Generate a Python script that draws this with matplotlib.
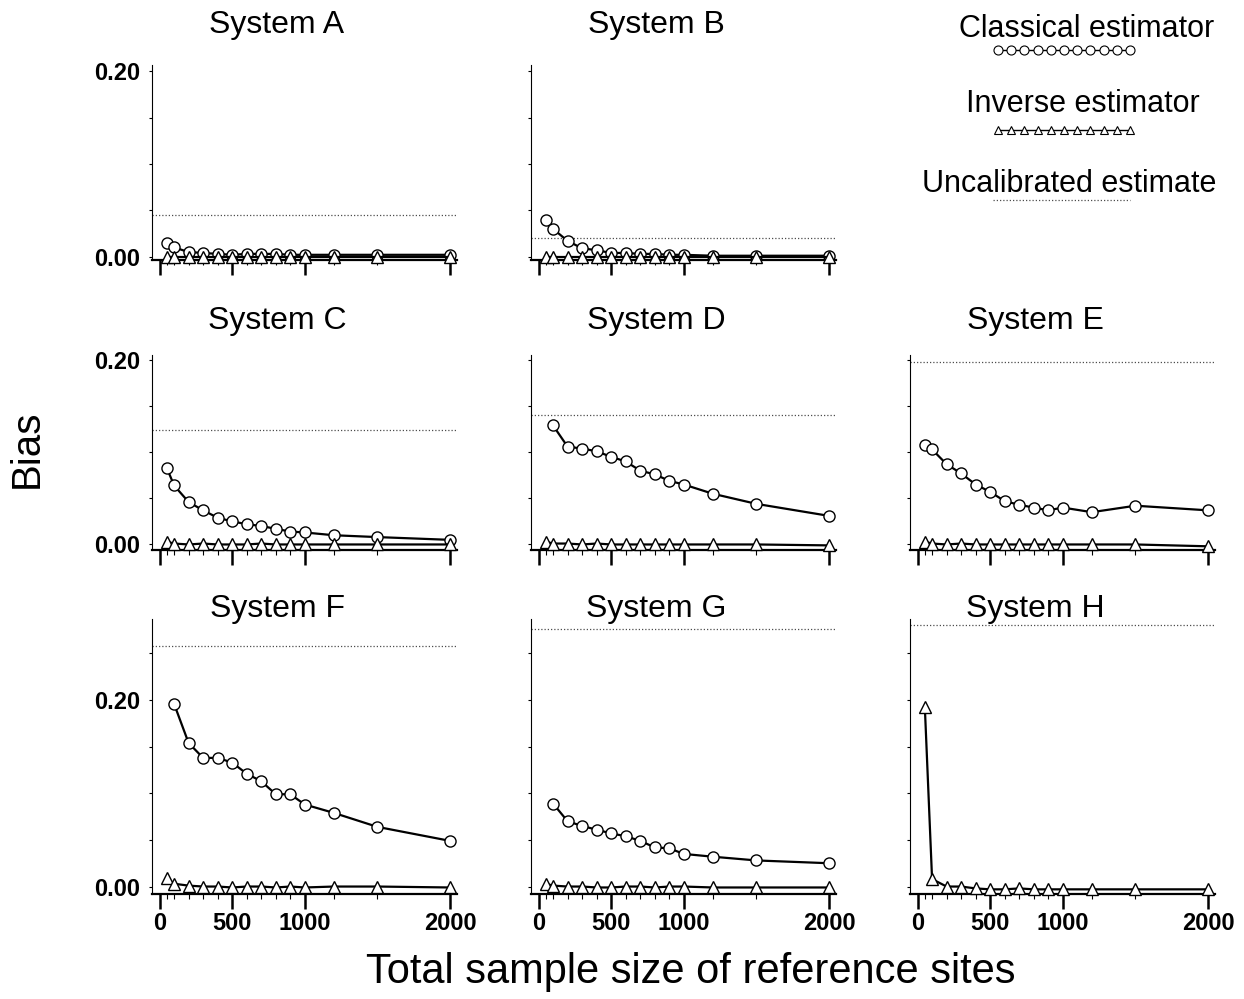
import numpy as np
import matplotlib.pyplot as plt

plt.rcParams['font.family'] = ['Liberation Sans', 'DejaVu Sans']

W, H = 1244, 999
nan = np.nan

# total sample size of reference sites
n_sites = [50, 100, 200, 300, 400, 500, 600, 700, 800, 900, 1000, 1200, 1500, 2000]

# bias of the classical estimator (nan = not shown)
classical_A = [0.015, 0.010, 0.005, 0.004, 0.003, 0.002, 0.003, 0.003, 0.003, 0.002, 0.002, 0.002, 0.002, 0.002]
classical_B = [0.040, 0.030, 0.017, 0.009, 0.007, 0.004, 0.004, 0.003, 0.003, 0.002, 0.002, 0.001, 0.001, 0.001]
classical_C = [0.083, 0.064, 0.046, 0.037, 0.029, 0.025, 0.022, 0.020, 0.017, 0.014, 0.013, 0.010, 0.008, 0.005]
classical_D = [nan, 0.129, 0.106, 0.104, 0.101, 0.095, 0.090, 0.080, 0.076, 0.069, 0.065, 0.055, 0.044, 0.031]
classical_E = [0.108, 0.103, 0.087, 0.077, 0.065, 0.057, 0.047, 0.043, 0.040, 0.037, 0.040, 0.035, 0.042, 0.037]
classical_F = [nan, 0.196, 0.154, 0.138, 0.138, 0.133, 0.121, 0.113, 0.099, 0.099, 0.088, 0.079, 0.064, 0.049]
classical_G = [nan, 0.089, 0.070, 0.065, 0.061, 0.057, 0.054, 0.049, 0.042, 0.041, 0.035, 0.032, 0.028, 0.025]
classical_H = [nan] * 14

# bias of the inverse estimator
inverse_A = [0.000, 0.000, 0.000, 0.000, 0.000, 0.000, 0.000, 0.000, 0.000, 0.000, 0.000, 0.000, 0.000, 0.000]
inverse_B = [0.000, 0.000, 0.000, 0.000, 0.000, 0.000, 0.000, 0.000, 0.000, 0.000, 0.000, 0.000, 0.000, 0.000]
inverse_C = [0.003, 0.001, 0.000, 0.001, 0.000, 0.000, 0.000, 0.001, 0.000, 0.000, 0.000, 0.000, 0.000, 0.000]
inverse_D = [0.003, 0.001, 0.001, 0.000, 0.001, 0.000, 0.000, 0.000, 0.000, 0.000, 0.000, 0.000, 0.000, -0.001]
inverse_E = [0.003, 0.001, 0.000, 0.001, 0.000, 0.000, 0.000, 0.000, 0.000, 0.000, 0.000, 0.000, 0.000, -0.002]
inverse_F = [0.009, 0.003, 0.001, 0.000, 0.000, -0.001, 0.000, 0.000, -0.001, 0.000, -0.001, 0.000, 0.000, -0.001]
inverse_G = [0.003, 0.001, 0.000, 0.000, -0.001, -0.001, 0.000, 0.000, -0.001, 0.000, 0.000, -0.001, -0.001, -0.001]
inverse_H = [0.193, 0.008, 0.000, 0.000, -0.002, -0.003, -0.003, -0.002, -0.003, -0.003, -0.003, -0.003, -0.003, -0.003]

# uncalibrated estimate (constant per system)
uncalibrated = [0.045, 0.020, 0.124, 0.140, 0.198, 0.258, 0.276, 0.281]

systems = ["A", "B", "C", "D", "E", "F", "G", "H"]
classical = [classical_A, classical_B, classical_C, classical_D,
             classical_E, classical_F, classical_G, classical_H]
inverse = [inverse_A, inverse_B, inverse_C, inverse_D,
           inverse_E, inverse_F, inverse_G, inverse_H]
grid_pos = [(0, 0), (0, 1), (1, 0), (1, 1), (1, 2), (2, 0), (2, 1), (2, 2)]

# layout in pixels
col_left = [152, 531, 910]
col_w = 305
rows = [(65, 260), (355, 550), (619, 894)]
ylims = [(-0.0036, 0.207), (-0.006, 0.2054), (-0.008, 0.287)]
title_gap = [23, 19, 1.5]   # points between axes top and title baseline

fig = plt.figure(figsize=(W / 100, H / 100), dpi=100)

for k, s in enumerate(systems):
    r, c = grid_pos[k]
    top, bot = rows[r]
    ax = fig.add_axes([col_left[c] / W, 1 - bot / H, col_w / W, (bot - top) / H])
    ax.set_xlim(-52, 2048)
    ax.set_ylim(*ylims[r])
    for sp in ['top', 'right']:
        ax.spines[sp].set_visible(False)
    ax.spines['left'].set_linewidth(0.8)
    ax.spines['bottom'].set_linewidth(1.6)

    ax.axhline(uncalibrated[k], color='0.3', lw=0.9, ls=(0, (1, 1.6)), zorder=1)
    ax.plot(n_sites, classical[k], '-o', color='k', lw=1.6, ms=8, mfc='white',
            mec='k', mew=1.0, clip_on=False, zorder=3)
    ax.plot(n_sites, inverse[k], '-^', color='k', lw=1.6, ms=8, mfc='white',
            mec='k', mew=1.0, clip_on=False, zorder=4)

    yt = np.arange(0, ylims[r][1], 0.05)
    ax.set_yticks(yt)
    if c == 0:
        ax.set_yticklabels(['0.00' if abs(v) < 1e-9 else ('0.20' if abs(v - 0.2) < 1e-9 else '') for v in yt])
    else:
        ax.set_yticklabels([])
    ax.tick_params(axis='y', direction='out', length=2.5, width=0.8, pad=6,
                   labelsize=17)
    for lab in ax.get_yticklabels():
        lab.set_fontweight('bold')

    ax.set_xticks([0, 500, 1000, 2000])
    ax.set_xticks(n_sites, minor=True)
    ax.tick_params(axis='x', which='major', direction='out', length=11, width=1.8,
                   pad=2, labelsize=17)
    ax.tick_params(axis='x', which='minor', direction='out', length=3.5, width=0.8)
    if r < 2:
        ax.tick_params(axis='x', labelbottom=False)
    for lab in ax.get_xticklabels():
        lab.set_fontweight('bold')

    ax.annotate("System " + s, xy=(0.41, 1.0), xycoords='axes fraction',
                xytext=(0, title_gap[r]), textcoords='offset points',
                ha='center', va='baseline', fontsize=23, annotation_clip=False)

# legend key drawn in pixel space
lax = fig.add_axes([0, 0, 1, 1], zorder=-1)
lax.set_xlim(0, W)
lax.set_ylim(H, 0)
lax.axis('off')
lax.text(1087, 37, "Classical estimator", ha='center', va='baseline', fontsize=22)
lax.text(1083, 112, "Inverse estimator", ha='center', va='baseline', fontsize=22)
lax.text(1069, 192, "Uncalibrated estimate", ha='center', va='baseline', fontsize=22)
key_x = np.linspace(998, 1130, 11)
lax.plot(key_x, np.full(11, 50.0), '-o', color='k', lw=1.0, ms=6.5, mfc='white', mew=0.8)
lax.plot(key_x, np.full(11, 130.0), '-^', color='k', lw=1.0, ms=6, mfc='white', mew=0.8)
lax.plot([993, 1130], [200, 200], color='0.3', lw=0.9, ls=(0, (1, 1.6)))

fig.text(27 / W, 1 - 449 / H, "Bias", rotation=90, ha='center', va='center', fontsize=29)
fig.text(691 / W, 1 - 972 / H, "Total sample size of reference sites",
         ha='center', va='center', fontsize=30)

fig.savefig("out.png", dpi=100)
